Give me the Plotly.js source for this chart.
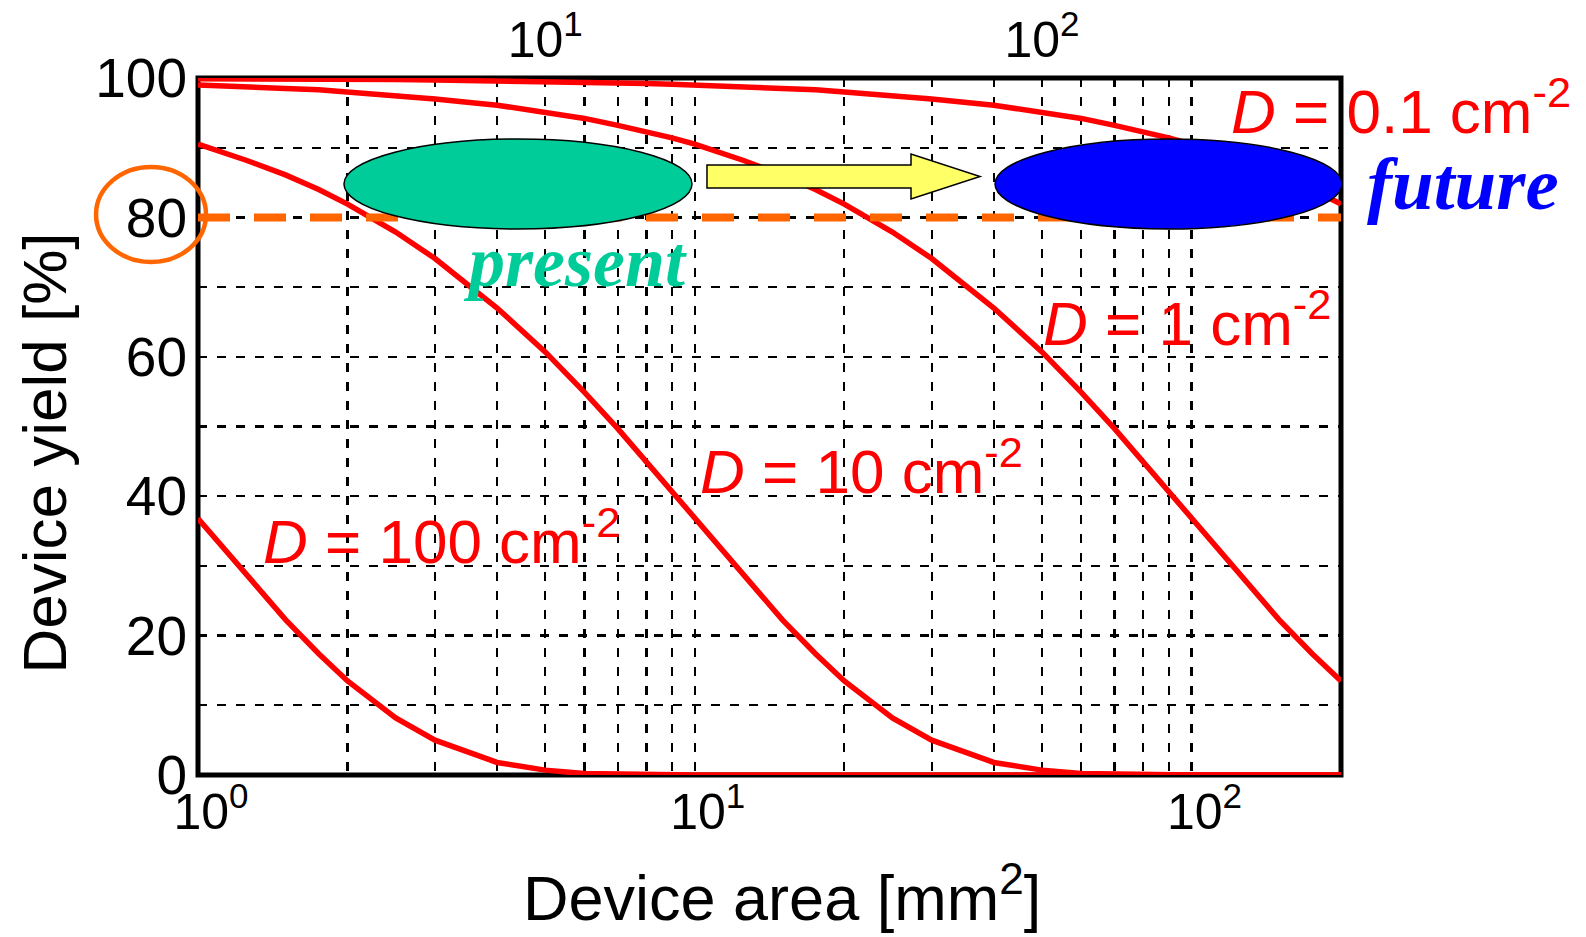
<!DOCTYPE html>
<html>
<head>
<meta charset="utf-8">
<script src="https://cdn.plot.ly/plotly-3.0.1.min.js"></script>
<style>
  html, body { margin: 0; padding: 0; background: #ffffff; }
  #chart { width: 1586px; height: 937px; }
</style>
</head>
<body>
<div id="chart"></div>
<script>
// Device area [mm^2]
const deviceArea = [1, 1.25, 1.5, 1.75, 2, 2.5, 3, 4, 5, 6, 7, 8, 9, 10, 12.5, 15, 17.5, 20, 25, 30, 40, 50, 60, 70, 80, 90, 100, 125, 150, 175, 200];
// Device yield [%]
const yieldD0p1 = [99.9, 99.9, 99.9, 99.8, 99.8, 99.8, 99.7, 99.6, 99.5, 99.4, 99.3, 99.2, 99.1, 99.0, 98.8, 98.5, 98.3, 98.0, 97.5, 97.0, 96.1, 95.1, 94.2, 93.2, 92.3, 91.4, 90.5, 88.2, 86.1, 84.0, 81.9];
const yieldD1   = [99.0, 98.8, 98.5, 98.3, 98.0, 97.5, 97.0, 96.1, 95.1, 94.2, 93.2, 92.3, 91.4, 90.5, 88.2, 86.1, 84.0, 81.9, 77.9, 74.1, 67.0, 60.7, 54.9, 49.7, 44.9, 40.7, 36.8, 28.7, 22.3, 17.4, 13.5];
const yieldD10  = [90.5, 88.2, 86.1, 84.0, 81.9, 77.9, 74.1, 67.0, 60.7, 54.9, 49.7, 44.9, 40.7, 36.8, 28.7, 22.3, 17.4, 13.5, 8.2, 5.0, 1.8, 0.7, 0.2, 0.1, 0, 0, 0, 0, 0, 0, 0];
const yieldD100 = [36.8, 28.7, 22.3, 17.4, 13.5, 8.2, 5.0, 1.8, 0.7, 0.2, 0.1, 0, 0, 0, 0, 0, 0, 0, 0, 0, 0, 0, 0, 0, 0, 0, 0, 0, 0, 0, 0];

const seriesLabels = ["<i>D</i> = 0.1 cm<sup>-2</sup>", "<i>D</i> = 1 cm<sup>-2</sup>", "<i>D</i> = 10 cm<sup>-2</sup>", "<i>D</i> = 100 cm<sup>-2</sup>"];

// bottom axis gridlines / tick labels
const xTickVals = [1, 2, 3, 4, 5, 6, 7, 8, 9, 10, 20, 30, 40, 50, 60, 70, 80, 90, 100];
const xTickText = ["10<sup>0</sup>", "", "", "", "", "", "", "", "", "10<sup>1</sup>", "", "", "", "", "", "", "", "", "10<sup>2</sup>"];
// top axis
const xTopTickVals = [10, 100];
const xTopTickText = ["10<sup>1</sup>", "10<sup>2</sup>"];
const xTopRange = [2, 400];
// y axis
const yTickVals = [0, 10, 20, 30, 40, 50, 60, 70, 80, 90, 100];
const yTickText = ["0", "", "20", "", "40", "", "60", "", "80", "", "100"];
const targetYield = 80;

const FONT = "Liberation Sans, Arial, sans-serif";
const SERIF = "Liberation Serif, Times New Roman, serif";
const RED = "#ff0000";

const ys = [yieldD0p1, yieldD1, yieldD10, yieldD100];
const traces = ys.map((y, i) => ({
  type: "scatter", mode: "lines", x: deviceArea, y: y,
  line: { color: RED, width: 5.5 }, cliponaxis: false,
  name: seriesLabels[i], showlegend: false, hoverinfo: "x+y"
}));
// empty trace so that the top (secondary) axis is drawn
traces.push({ type: "scatter", mode: "lines", x: [], y: [], xaxis: "x2", yaxis: "y", showlegend: false, hoverinfo: "skip" });

const gridDash = "9px,10px";

const layout = {
  width: 1586, height: 937,
  margin: { l: 198, r: 245, t: 78, b: 162 },
  paper_bgcolor: "#ffffff", plot_bgcolor: "#ffffff",
  font: { family: FONT, color: "#000" },
  showlegend: false,
  xaxis: {
    type: "log", range: [0, Math.log10(200)],
    tickvals: xTickVals, ticktext: xTickText,
    tickfont: { size: 50, family: FONT, color: "#000" },
    ticks: "", ticklabelstandoff: 3, ticklabelshift: 13,
    showgrid: true, gridcolor: "#000", gridwidth: 2.2, griddash: gridDash,
    showline: false, zeroline: false
  },
  xaxis2: {
    type: "log", overlaying: "x", side: "top", anchor: "y",
    range: [Math.log10(xTopRange[0]), Math.log10(xTopRange[1])],
    tickvals: xTopTickVals, ticktext: xTopTickText,
    tickfont: { size: 50, family: FONT, color: "#000" },
    ticks: "", ticklabelstandoff: 10, showgrid: false, showline: false, zeroline: false
  },
  yaxis: {
    range: [0, 100],
    tickvals: yTickVals, ticktext: yTickText,
    tickfont: { size: 55, family: FONT, color: "#000" },
    ticks: "", ticklabelstandoff: 10,
    showgrid: true, gridcolor: "#000", gridwidth: 2.2, griddash: gridDash,
    showline: false, zeroline: false
  },
  shapes: [
    // plot frame, centred on the plot edges and drawn under the curves
    { type: "rect", xref: "paper", yref: "paper", x0: 0, x1: 1, y0: 0, y1: 1,
      line: { color: "#000", width: 5 }, fillcolor: "rgba(0,0,0,0)", layer: "below" },
    // orange circle around the 80 label
    { type: "circle", xref: "paper", yref: "paper", x0: -0.0892, x1: 0.0070, y0: 0.736, y1: 0.8723,
      line: { color: "#ff6600", width: 4.5 }, fillcolor: "rgba(0,0,0,0)", layer: "above" },
    // 80 % target line
    { type: "line", xref: "paper", yref: "y", x0: 0, x1: 1, y0: targetYield, y1: targetYield,
      line: { color: "#ff6600", width: 8, dash: "32px,24px" }, layer: "above" },
    // present ellipse
    { type: "circle", xref: "paper", yref: "paper", x0: 0.1277, x1: 0.4322, y0: 0.7834, y1: 0.9125,
      line: { color: "#000", width: 1.5 }, fillcolor: "#00cc99", layer: "above" },
    // future ellipse
    { type: "circle", xref: "paper", yref: "paper", x0: 0.6973, x1: 1.0009, y0: 0.7834, y1: 0.9125,
      line: { color: "#000", width: 1.5 }, fillcolor: "#0000ff", layer: "above" },
    // arrow
    { type: "path", xref: "paper", yref: "paper",
      path: "M0.4453,0.8752 L0.6238,0.8752 L0.6238,0.8910 L0.6842,0.8587 L0.6238,0.8264 L0.6238,0.8422 L0.4453,0.8422 Z",
      line: { color: "#000", width: 1.5 }, fillcolor: "#ffff66", layer: "above" }
  ],
  annotations: [
    { xref: "paper", yref: "paper", x: 0.902, y: 0.958, xanchor: "left", yanchor: "middle",
      text: seriesLabels[0], showarrow: false, font: { size: 62, color: RED, family: FONT } },
    { xref: "paper", yref: "paper", x: 0.7375, y: 0.6548, xanchor: "left", yanchor: "middle",
      text: seriesLabels[1], showarrow: false, font: { size: 62, color: RED, family: FONT } },
    { xref: "paper", yref: "paper", x: 0.4374, y: 0.4417, xanchor: "left", yanchor: "middle",
      text: seriesLabels[2], showarrow: false, font: { size: 62, color: RED, family: FONT } },
    { xref: "paper", yref: "paper", x: 0.0551, y: 0.3412, xanchor: "left", yanchor: "middle",
      text: seriesLabels[3], showarrow: false, font: { size: 62, color: RED, family: FONT } },
    { xref: "paper", yref: "paper", x: 0.3298, y: 0.7357, xanchor: "center", yanchor: "middle",
      text: "<b><i>present</i></b>", showarrow: false, font: { size: 72, color: "#00cc99", family: SERIF } },
    { xref: "paper", yref: "paper", x: 1.1067, y: 0.848, xanchor: "center", yanchor: "middle",
      text: "<b><i>future</i></b>", showarrow: false, font: { size: 75, color: "#0000ff", family: SERIF } },
    { xref: "paper", yref: "paper", x: 0.511, y: -0.1693, xanchor: "center", yanchor: "middle",
      text: "Device area [mm<sup>2</sup>]", showarrow: false, font: { size: 63, color: "#000", family: FONT } },
    { xref: "paper", yref: "paper", x: -0.1343, y: 0.462, xanchor: "center", yanchor: "middle", textangle: -90,
      text: "Device yield [%]", showarrow: false, font: { size: 62, color: "#000", family: FONT } }
  ]
};

Plotly.newPlot("chart", traces, layout, { displayModeBar: false, staticPlot: true });
</script>
</body>
</html>
